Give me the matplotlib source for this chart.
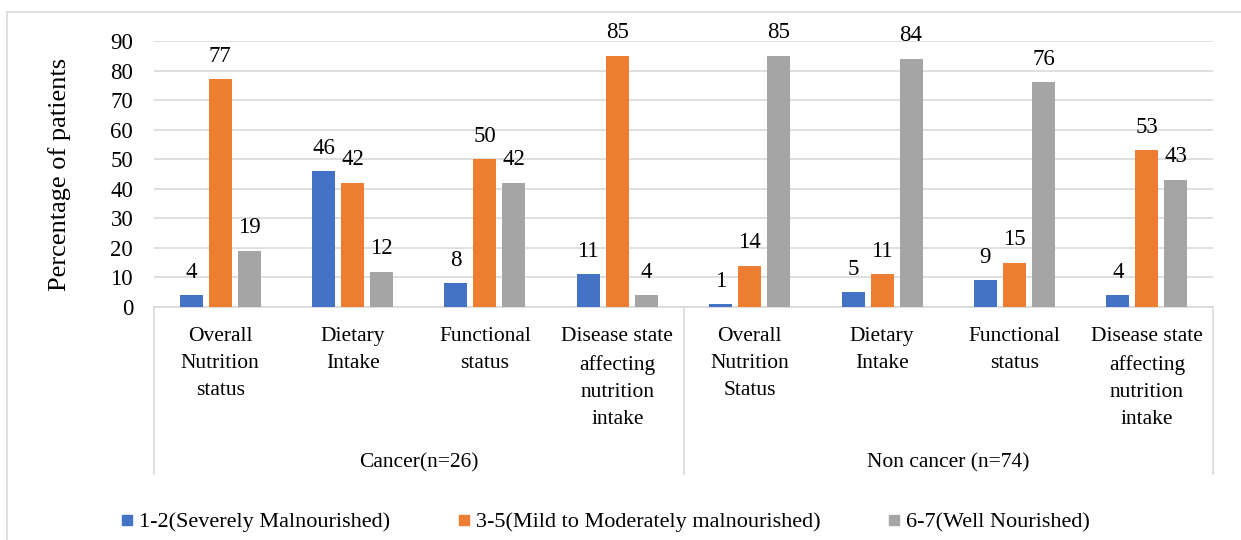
import matplotlib
matplotlib.use("Agg")
import matplotlib.pyplot as plt
from matplotlib.lines import Line2D
from matplotlib.patches import Rectangle
import numpy as np

plt.rcParams['font.family'] = ['Liberation Serif', 'DejaVu Serif']

groups = ["Cancer(n=26)", "Non cancer (n=74)"]
subcategories = [
    "Overall\nNutrition\nstatus", "Dietary\nIntake", "Functional\nstatus",
    "Disease state\naffecting\nnutrition\nintake",
    "Overall\nNutrition\nStatus", "Dietary\nIntake", "Functional\nstatus",
    "Disease state\naffecting\nnutrition\nintake",
]
series_names = ["1-2(Severely Malnourished)",
                "3-5(Mild to Moderately malnourished)",
                "6-7(Well Nourished)"]
severe = [4, 46, 8, 11, 1, 5, 9, 4]
moderate = [77, 42, 50, 85, 14, 11, 15, 53]
well = [19, 12, 42, 4, 85, 84, 76, 43]
y_ticks = [0, 10, 20, 30, 40, 50, 60, 70, 80, 90]

colors = ["#4472C4", "#ED7D31", "#A5A5A5"]
FS = 15.5
W, H = 1241, 540

fig = plt.figure(figsize=(W / 100, H / 100), dpi=100)
fig.patch.set_facecolor("white")
ax = fig.add_axes([154 / W, 1 - 307 / H, (1213 - 154) / W, (307 - 41) / H])

# outer chart frame
fig.patches.append(Rectangle((7 / W, -0.1), 1.2, 1.1 - 12 / H, transform=fig.transFigure,
                             fill=False, edgecolor="#D9D9D9", lw=1.2, zorder=0))

x = np.arange(len(subcategories)) + 0.5
bw = 0.174
step = 0.219
for k, (vals, c) in enumerate(zip([severe, moderate, well], colors)):
    pos = x + (k - 1) * step
    ax.bar(pos, vals, width=bw, color=c, zorder=3)
    for p, v in zip(pos, vals):
        ax.annotate(str(v), (p, v), xytext=(0, 9), textcoords="offset points",
                    ha="center", va="bottom", fontsize=FS + 1)

ax.set_xlim(0, len(subcategories))
ax.set_ylim(0, 90)
ax.set_yticks(y_ticks)
ax.tick_params(axis="y", length=0, pad=15, labelsize=FS + 1)
ax.tick_params(axis="x", length=0, labelbottom=False)
ax.grid(axis="y", color="#D9D9D9", lw=1.2, zorder=0)
for s in ["left", "right", "top"]:
    ax.spines[s].set_visible(False)
ax.spines["bottom"].set_color("#D9D9D9")
ax.spines["bottom"].set_linewidth(1.2)

# category axis: sub labels, group labels and separators
for xi, lab in zip(x, subcategories):
    ax.annotate(lab, (xi, 0), xycoords=("data", "axes fraction"), xytext=(0, -14.5),
                textcoords="offset points", ha="center", va="top", fontsize=FS,
                linespacing=1.57, annotation_clip=False)
n_per = len(subcategories) // len(groups)
for g, name in enumerate(groups):
    ax.annotate(name, (g * n_per + n_per / 2, 0), xycoords=("data", "axes fraction"),
                xytext=(0, -112), textcoords="offset points", ha="center",
                va="center", fontsize=FS, annotation_clip=False)
for xs in [0, n_per, 2 * n_per]:
    ax.plot([xs, xs], [0, -167 / (307 - 41)], transform=ax.get_xaxis_transform(),
            color="#D9D9D9", lw=1.2, clip_on=False)

fig.text(60 / W, 1 - 174 / H, "Percentage of patients", rotation=90,
         ha="center", va="center", fontsize=19)

handles = [Line2D([], [], marker="s", linestyle="none", markersize=7,
                  markerfacecolor=c, markeredgecolor=c) for c in colors]
fig.legend(handles, series_names, loc="center", bbox_to_anchor=(605 / W, 1 - 522 / H),
           ncol=3, frameon=False, fontsize=16, handlelength=0.6, handletextpad=0.25,
           columnspacing=3.0, borderpad=0)

fig.savefig("out.png", dpi=100, facecolor="white")
